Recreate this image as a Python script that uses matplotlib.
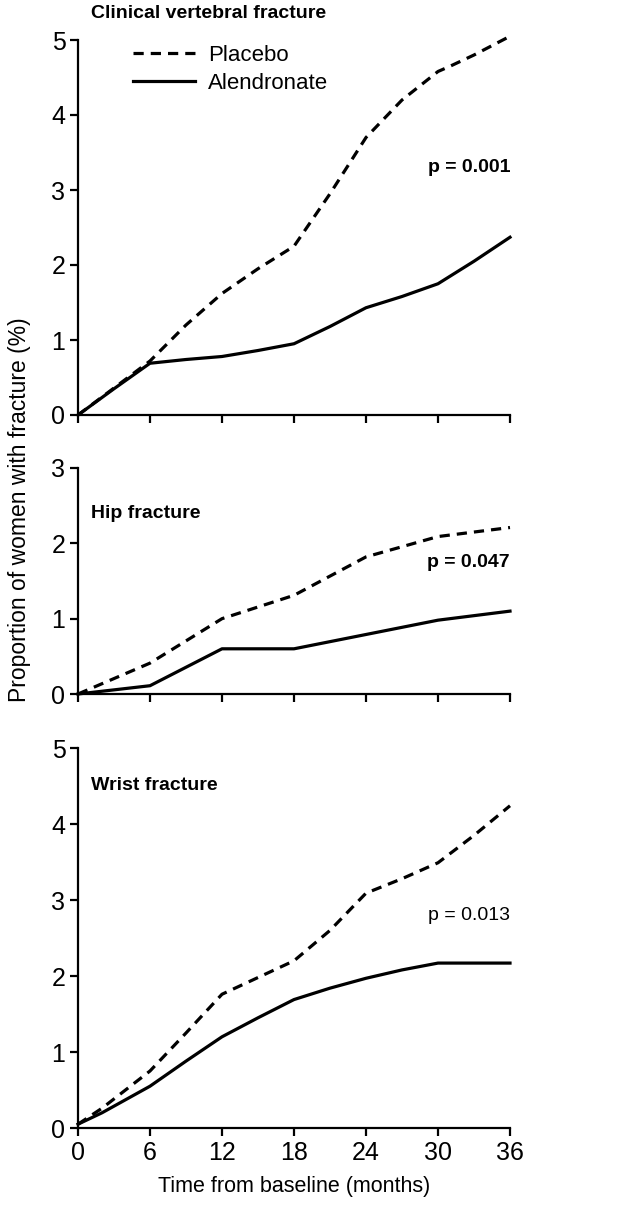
import numpy as np
import matplotlib
matplotlib.use("Agg")
import matplotlib.pyplot as plt

plt.rcParams['font.family'] = ['Liberation Sans', 'DejaVu Sans']

# months from baseline and cumulative proportion (%)
months = [0, 3, 6, 9, 12, 15, 18, 21, 24, 27, 30, 31, 33, 36]
vert_placebo = [0, 0.36, 0.72, 1.2, 1.62, 1.95, 2.25, 2.95, 3.7, 4.2, 4.58, 4.65, 4.8, 5.05]
vert_alen = [0, 0.35, 0.69, 0.74, 0.78, 0.86, 0.95, 1.18, 1.43, 1.58, 1.75, 1.85, 2.05, 2.37]

hip_months = [0, 6, 12, 18, 24, 30, 36]
hip_placebo = [0, 0.41, 1.0, 1.31, 1.82, 2.09, 2.21]
hip_alen = [0, 0.11, 0.6, 0.6, 0.79, 0.98, 1.1]

wrist_months = [0, 2, 6, 9, 12, 15, 18, 21, 24, 27, 30, 33, 36]
wrist_placebo = [0.05, 0.26, 0.75, 1.25, 1.76, 1.98, 2.2, 2.6, 3.09, 3.28, 3.49, 3.85, 4.24]
wrist_alen = [0.05, 0.2, 0.55, 0.88, 1.2, 1.45, 1.69, 1.84, 1.97, 2.08, 2.17, 2.17, 2.17]

titles = ['Clinical vertebral fracture', 'Hip fracture', 'Wrist fracture']
pvals = ['p = 0.001', 'p = 0.047', 'p = 0.013']
xticks = [0, 6, 12, 18, 24, 30, 36]

fig = plt.figure(figsize=(6.17, 12.05), dpi=100)
L, W = 78 / 617, 432 / 617
ax1 = fig.add_axes([L, 1 - 415 / 1205, W, 375 / 1205])
ax2 = fig.add_axes([L, 1 - 694 / 1205, W, 226 / 1205])
ax3 = fig.add_axes([L, 1 - 1128 / 1205, W, 380 / 1205])

panels = [
    (ax1, months, vert_placebo, vert_alen, 5),
    (ax2, hip_months, hip_placebo, hip_alen, 3),
    (ax3, wrist_months, wrist_placebo, wrist_alen, 5),
]

for i, (ax, x, pl, al, ymax) in enumerate(panels):
    ax.plot(x, pl, color='black', lw=2.3, ls=(0, (3.2, 2.2)), clip_on=False, label='Placebo')
    ax.plot(x, al, color='black', lw=2.3, clip_on=False, label='Alendronate')
    ax.set_xlim(0, 36)
    ax.set_ylim(0, ymax)
    ax.set_xticks(xticks)
    ax.set_yticks(range(ymax + 1))
    for s in ['top', 'right']:
        ax.spines[s].set_visible(False)
    for s in ['left', 'bottom']:
        ax.spines[s].set_linewidth(1.6)
    ax.tick_params(direction='out', length=6, width=1.6, labelsize=18, pad=3)
    if i < 2:
        ax.set_xticklabels([])
    ax.text(1.0, [0.66, 0.58, 0.56][i], pvals[i], transform=ax.transAxes, ha='right', va='center',
            fontsize=14, fontweight='bold' if i < 2 else 'normal')

ax1.text(0.03, 1.07, titles[0], transform=ax1.transAxes, fontsize=14, fontweight='bold', va='center')
ax2.text(0.03, 0.8, titles[1], transform=ax2.transAxes, fontsize=14, fontweight='bold', va='center')
ax3.text(0.03, 0.9, titles[2], transform=ax3.transAxes, fontsize=14, fontweight='bold', va='center')

ax1.legend(loc='upper left', bbox_to_anchor=(0.08, 1.04), frameon=False, fontsize=16,
           handlelength=2.8, handletextpad=0.6, labelspacing=0.3)

ax3.set_xlabel('Time from baseline (months)', fontsize=15.5, labelpad=8)
fig.text(0.032, 1 - 510 / 1205, 'Proportion of women with fracture (%)', rotation=90,
         ha='center', va='center', fontsize=16.5)

fig.savefig('out.png', dpi=100)
